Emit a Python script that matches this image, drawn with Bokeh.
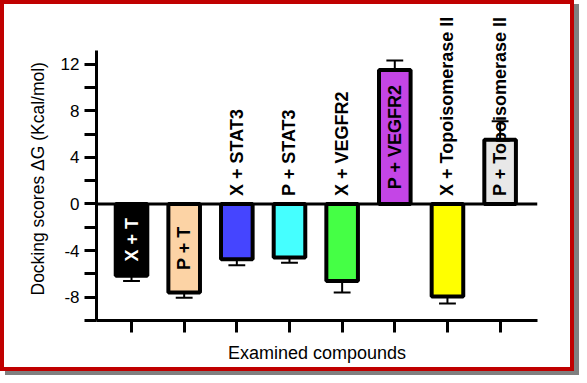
import math
from bokeh.plotting import figure
from bokeh.models import FixedTicker, Span, Title, ColumnDataSource
from bokeh.core.properties import value
from bokeh.embed import file_html
from bokeh.resources import INLINE

# ---- data ----
compounds = ["X + T", "P + T", "X + STAT3", "P + STAT3", "X + VEGFR2",
             "P + VEGFR2", "X + Topoisomerase II", "P + Topoisomerase II"]
scores = [-6.15, -7.6, -4.75, -4.6, -6.6, 11.5, -7.95, 5.5]
errors = [0.45, 0.45, 0.5, 0.45, 1.0, 0.8, 0.6, 1.6]
bar_colors = ["#000000", "#FCD3A5", "#4545FF", "#45FFFF", "#45FF45",
              "#C445E6", "#FFFF00", "#E8E8E8"]
y_ticks = [-10, -8, -6, -4, -2, 0, 2, 4, 6, 8, 10, 12]
y_tick_labels = ["", "-8", "", "-4", "", "0", "", "4", "", "8", "", "12"]
y_title = "Docking scores \u0394G (Kcal/mol)"
x_title = "Examined compounds"

FONT = "Liberation Sans"
Y0, Y1 = -10, 16.6
AXIS_TOP = 13.2
BORDER = 4
W, H = 574, 371          # canvas size; CSS border adds 2*BORDER outside
MB_T, MB_B, MB_L, MB_R = 6, 55, 92, 41
px_per_unit = (H - MB_T - MB_B) / (Y1 - Y0)

xs = list(range(1, len(compounds) + 1))

p = figure(width=W, height=H, x_range=(0.335, 8.71), y_range=(Y0, Y1),
           output_backend="svg", toolbar_location=None,
           min_border_left=MB_L, min_border_right=MB_R,
           min_border_top=MB_T, min_border_bottom=MB_B)
p.styles = {"border": f"{BORDER}px solid #C00000",
            "box-shadow": "5px 4px 0px #808080"}
p.grid.visible = False
p.outline_line_color = None
p.background_fill_color = "white"
p.border_fill_color = "white"

# y axis
ya = p.yaxis[0]
ya.ticker = FixedTicker(ticks=y_ticks)
ya.major_label_overrides = {t: l for t, l in zip(y_ticks, y_tick_labels)}
ya.bounds = (Y0, AXIS_TOP)
ya.axis_line_width = 3
ya.major_tick_line_width = 3
ya.major_tick_out = 12
ya.major_tick_in = 0
ya.minor_tick_out = 0
ya.minor_tick_in = 0
ya.major_label_standoff = 5
ya.major_label_text_font = FONT
ya.major_label_text_font_size = "17px"
ya.major_label_text_color = "black"

# x axis
xa = p.xaxis[0]
xa.ticker = FixedTicker(ticks=xs)
xa.major_label_overrides = {x: "" for x in xs}
xa.axis_line_width = 3
xa.major_tick_line_width = 3
xa.major_tick_out = 12
xa.major_tick_in = 0
xa.minor_tick_out = 0
xa.minor_tick_in = 0
xa.axis_label = x_title
xa.axis_label_text_font = FONT
xa.axis_label_text_font_style = "normal"
xa.axis_label_text_font_size = "18px"
xa.axis_label_text_color = "black"
xa.axis_label_standoff = 10

# error bars (outward only)
tips = [v + (e if v > 0 else -e) for v, e in zip(scores, errors)]
cap = 0.16
p.segment(x0=xs, y0=scores, x1=xs, y1=tips, line_color="black", line_width=2)
p.segment(x0=[x - cap for x in xs], y0=tips, x1=[x + cap for x in xs], y1=tips,
          line_color="black", line_width=2)

src = ColumnDataSource(dict(x=xs, top=scores, color=bar_colors))
p.vbar(x="x", top="top", bottom=0, width=0.6, fill_color="color",
       line_color="black", line_width=4, source=src)

p.add_layout(Span(location=0, dimension="width", line_color="black", line_width=3))

# bar labels
def est_len_units(s):
    return len(s) * 0.55 * 18 / px_per_unit

def txt_color(c):
    r, g, b = int(c[1:3], 16), int(c[3:5], 16), int(c[5:7], 16)
    return "white" if (0.299 * r + 0.587 * g + 0.114 * b) < 60 else "black"

inside = dict(x=[], y=[], text=[], color=[])
outside = dict(x=[], y=[], text=[], color=[])
for x, v, name, c in zip(xs, scores, compounds, bar_colors):
    if est_len_units(name) < abs(v):
        inside["x"].append(x); inside["y"].append(v / 2)
        inside["text"].append(name); inside["color"].append(txt_color(c))
    else:
        outside["x"].append(x); outside["y"].append(0)
        outside["text"].append(name); outside["color"].append("black")

common = dict(angle=math.pi / 2, text_baseline="middle",
              text_font=value(FONT), text_font_style="bold",
              text_font_size="18px")
p.text(x="x", y="y", text="text", text_color="color", text_align="center",
       source=ColumnDataSource(inside), **common)
p.text(x="x", y="y", text="text", text_color="color", text_align="left",
       y_offset=-8, source=ColumnDataSource(outside), **common)

# y axis title (starts near the bottom of the axis, reads upward)
p.add_layout(Title(text=y_title, align="left", offset=25, standoff=20,
                   text_font=FONT, text_font_style="normal",
                   text_font_size="17.5px", text_color="black"), "left")

open("out.html", "w").write(file_html(p, INLINE))
